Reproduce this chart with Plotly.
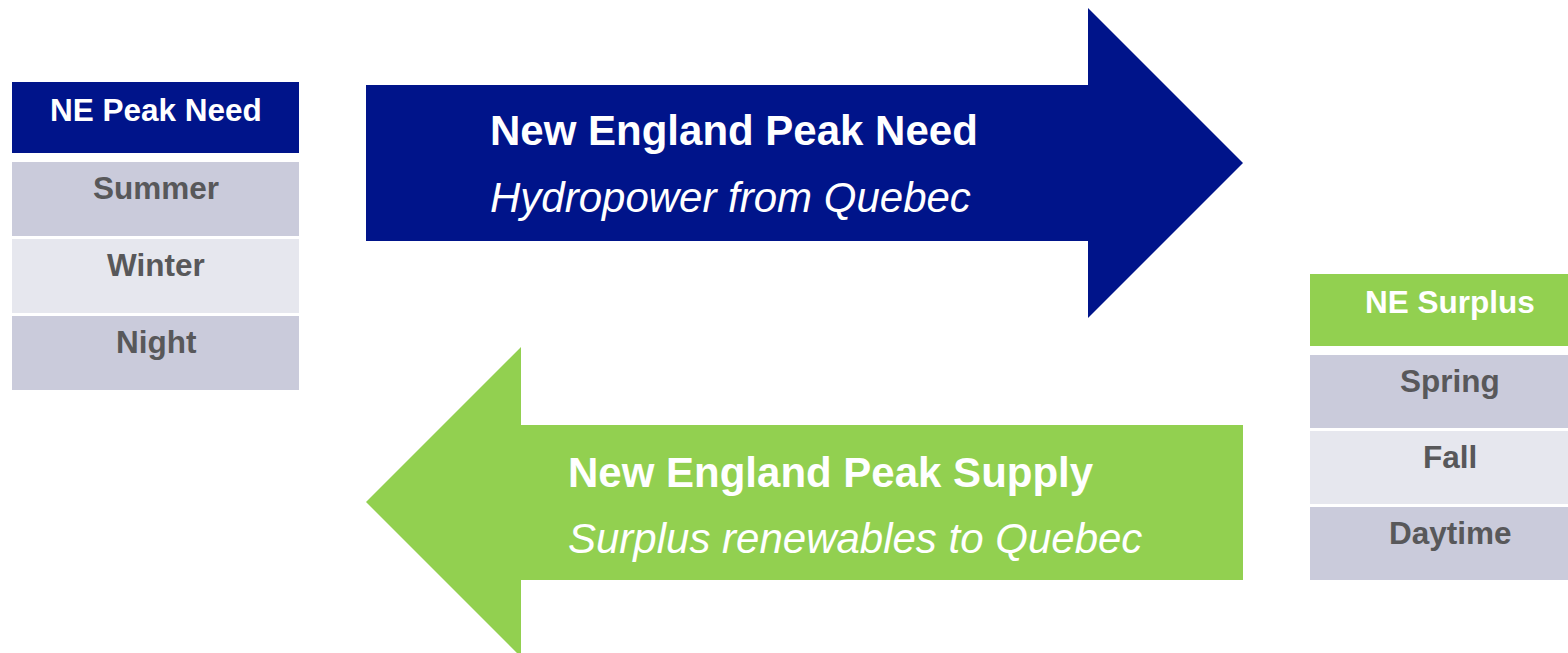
import plotly.graph_objects as go

# ---- content ----
left_header = "NE Peak Need"
left_rows = ["Summer", "Winter", "Night"]
right_header = "NE Surplus"
right_rows = ["Spring", "Fall", "Daytime"]
arrow_titles = ["New England Peak Need", "New England Peak Supply"]
arrow_subtitles = ["Hydropower from Quebec", "Surplus renewables to Quebec"]

# ---- style ----
W, H = 1568, 653
NAVY = "#00148A"
GREEN = "#92D050"
ROW_DARK = "#CACBDB"
ROW_LIGHT = "#E6E7EE"
TXT_GRAY = "#58585A"
FONT = "Liberation Sans, Arial, sans-serif"

fig = go.Figure()
annotations = []


def rect(x0, x1, y0, y1, color):
    fig.add_trace(go.Scatter(
        x=[x0, x1, x1, x0, x0], y=[y0, y0, y1, y1, y0],
        mode="lines", fill="toself", fillcolor=color,
        line=dict(width=0, color=color), hoverinfo="skip", showlegend=False))


def poly(xs, ys, color):
    fig.add_trace(go.Scatter(
        x=xs + [xs[0]], y=ys + [ys[0]],
        mode="lines", fill="toself", fillcolor=color,
        line=dict(width=0, color=color), hoverinfo="skip", showlegend=False))


def label(x, y, text, size, color, bold=True, italic=False, xanchor="center"):
    t = text
    if italic:
        t = "<i>" + t + "</i>"
    if bold:
        t = "<b>" + t + "</b>"
    annotations.append(dict(x=x, y=y, xref="x", yref="y", text=t, showarrow=False,
                            xanchor=xanchor, yanchor="middle",
                            font=dict(family=FONT, size=size, color=color)))


def table(x0, x1, head_top, head_h, rows_top, pitch, row_h, header, rows, head_color, cx):
    rect(x0, x1, head_top, head_top + head_h, head_color)
    label(cx, head_top + 28, header, 31.5, "white")
    for i, r in enumerate(rows):
        top = rows_top + i * pitch
        rect(x0, x1, top, top + row_h, ROW_DARK if i % 2 == 0 else ROW_LIGHT)
        label(cx, top + 26, r, 31.5, TXT_GRAY)


# left table
table(12, 299, 82, 71, 162, 77, 74, left_header, left_rows, NAVY, 156)
# right table (extends past the right edge)
table(1310, 1590, 274, 72, 355, 76, 73, right_header, right_rows, GREEN, 1450)

# right-pointing navy arrow
poly([366, 1088, 1088, 1243, 1088, 1088, 366],
     [85, 85, 8, 163, 318, 241, 241], NAVY)
# left-pointing green arrow
poly([1243, 521, 521, 366, 521, 521, 1243],
     [425, 425, 347, 502, 657, 580, 580], GREEN)

label(488, 130, arrow_titles[0], 42, "white", xanchor="left")
label(488, 197, arrow_subtitles[0], 42, "white", bold=False, italic=True, xanchor="left")
label(566, 472, arrow_titles[1], 42, "white", xanchor="left")
label(566, 538, arrow_subtitles[1], 42, "white", bold=False, italic=True, xanchor="left")

fig.update_layout(
    width=W, height=H,
    margin=dict(l=0, r=0, t=0, b=0),
    paper_bgcolor="white", plot_bgcolor="white",
    xaxis=dict(range=[0, W], visible=False, fixedrange=True),
    yaxis=dict(range=[H, 0], visible=False, fixedrange=True),
    annotations=annotations,
    showlegend=False,
)

fig.write_html(
    "out.html",
    config={"displayModeBar": False},
    post_script="document.body.style.margin='0';document.body.style.overflow='hidden';",
)
